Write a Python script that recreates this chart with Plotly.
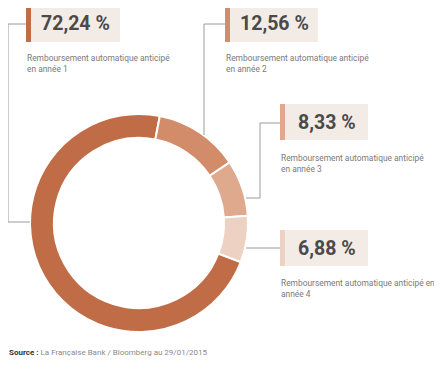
import plotly.graph_objects as go

# ---- data ----
categories = ["Remboursement automatique anticipé<br>en année 1",
              "Remboursement automatique anticipé<br>en année 2",
              "Remboursement automatique anticipé<br>en année 3",
              "Remboursement automatique anticipé en<br>année 4"]
values = [72.24, 12.56, 8.33, 6.88]
value_labels = ["72,24 %", "12,56 %", "8,33 %", "6,88 %"]
colors = ["#C06C47", "#D38C69", "#DEA98C", "#EDD2C3"]
source_text = "<b>Source :</b> <span style='color:#8a8a8a'>La Française Bank / Bloomberg au 29/01/2015</span>"

# page body has an 8px default margin: the figure is drawn offset by it
OFF = 8
W, H = 442 - OFF, 383 - OFF
FONT = "Roboto, sans-serif"

def px(x):
    return (x - OFF) / W

def py(y):
    return 1 - (y - OFF) / H

fig = go.Figure()
fig.add_trace(go.Pie(
    labels=categories, values=values, sort=False, direction="clockwise",
    rotation=111, hole=0.78, textinfo="none", hoverinfo="label+percent",
    marker=dict(colors=colors, line=dict(color="white", width=2)),
    domain=dict(x=[px(30), px(248)], y=[py(332), py(114)]),
    showlegend=False,
))

# label boxes: (left, top, right, bottom), subtext top-left
boxes = [
    dict(box=(26, 5, 120, 42), sub=(26, 52)),
    dict(box=(225, 5, 318, 42), sub=(225, 52)),
    dict(box=(280, 104, 368, 140), sub=(280, 152)),
    dict(box=(280, 230, 368, 266), sub=(280, 277)),
]

shapes = []
annotations = []
for i, b in enumerate(boxes):
    l, t, r, btm = b["box"]
    shapes.append(dict(type="rect", xref="paper", yref="paper",
                       x0=px(l), x1=px(r), y0=py(btm), y1=py(t),
                       fillcolor="#F3ECE6", line=dict(width=0), layer="below"))
    shapes.append(dict(type="rect", xref="paper", yref="paper",
                       x0=px(l), x1=px(l + 5), y0=py(btm), y1=py(t),
                       fillcolor=colors[i], line=dict(width=0), layer="below"))
    annotations.append(dict(xref="paper", yref="paper",
                            x=px((l + 5 + r) / 2), y=py((t + btm) / 2),
                            text="<b>" + value_labels[i] + "</b>", showarrow=False,
                            xanchor="center", yanchor="middle",
                            font=dict(family=FONT, size=19.5, color="#4A4A4A")))
    sx, sy = b["sub"]
    annotations.append(dict(xref="paper", yref="paper", x=px(sx), y=py(sy),
                            text=categories[i], showarrow=False, align="left",
                            xanchor="left", yanchor="top", borderpad=0,
                            font=dict(family=FONT, size=8.4, color="#7A7A7A")))

# connector lines
paths = [
    [(26, 24), (8, 24), (8, 222), (30, 222)],
    [(225, 24), (204, 24), (204, 135)],
    [(280, 123), (260, 123), (260, 198), (246, 198)],
    [(280, 248), (246, 248)],
]
for p in paths:
    d = "M " + " L ".join(f"{px(x):.5f},{py(y):.5f}" for x, y in p)
    shapes.append(dict(type="path", xref="paper", yref="paper", path=d,
                       line=dict(color="#9A9A9A", width=1)))

annotations.append(dict(xref="paper", yref="paper", x=px(7), y=py(352),
                        text=source_text, showarrow=False, xanchor="left",
                        yanchor="middle",
                        font=dict(family=FONT, size=8, color="#333333")))

fig.update_layout(width=W, height=H, margin=dict(l=0, r=0, t=0, b=0),
                  paper_bgcolor="white", plot_bgcolor="white",
                  shapes=shapes, annotations=annotations,
                  font=dict(family=FONT))
fig.write_html("out.html")
